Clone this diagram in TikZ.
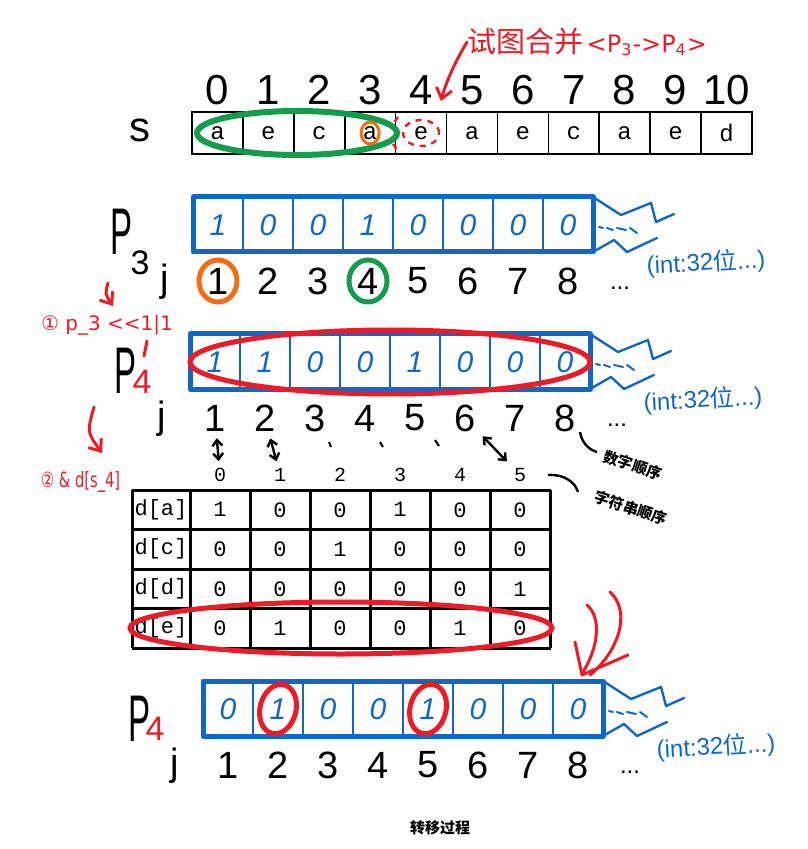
\documentclass[tikz,border=0pt]{standalone}
\usepackage{fontspec}
\usepackage{graphicx}
\setmainfont{Liberation Sans}
\newfontfamily\cjk{Noto Sans CJK SC}
\newfontfamily\dejavu{DejaVu Sans}
\newfontfamily\mono{Liberation Mono}
\usetikzlibrary{arrows.meta}

\definecolor{penblue}{RGB}{17,104,196}
\definecolor{penred}{RGB}{235,28,40}
\definecolor{pengreen}{RGB}{20,155,75}
\definecolor{penorange}{RGB}{245,110,20}

\tikzset{
  hand/.style={font=\fontsize{19}{19}\selectfont},
  bigidx/.style={font=\fontsize{21}{21}\selectfont},
  bit/.style={text=penblue,font=\itshape\fontsize{15}{15}\selectfont},
  scell/.style={font=\mono\fontsize{12}{12}\selectfont},
  tabtxt/.style={font=\mono\fontsize{11}{11}\selectfont},
  plab/.style={font=\fontsize{33}{33}\selectfont},
  sublab/.style={font=\fontsize{17}{17}\selectfont},
  redtxt/.style={text=penred},
  note/.style={font=\cjk\bfseries\fontsize{7.5}{8}\selectfont},
  bluenote/.style={text=penblue,font=\fontsize{12}{12}\selectfont,rotate=3},
  bluethick/.style={penblue,line width=2.5pt,line join=round},
  bluethin/.style={penblue,line width=1pt},
  bluecut/.style={penblue,line width=1.2pt,line join=round,line cap=round},
  redpen/.style={penred,line width=1.5pt,line cap=round},
  redarrow/.style={redpen,-{Straight Barb[length=5pt,width=8pt]}},
  dbl/.style={line width=1.2pt,{Straight Barb[length=3pt,width=5pt]}-{Straight Barb[length=3pt,width=5pt]}}
}

\begin{document}
\begin{tikzpicture}[x=1pt,y=-1pt,scale=0.5]
  \useasboundingbox (0,0) rectangle (807,849);

  % title and the string s
  \node[redtxt,anchor=west,inner sep=0pt] (title) at (467,42)
    {{\cjk\fontsize{14.5}{15}\selectfont 试图合并}\,{\dejavu\fontsize{12}{12}\selectfont <P\textsubscript{3}->P\textsubscript{4}>}};
  \coordinate (aim) at (441,101);
  \draw[redarrow] (title.west) .. controls (455,62) and (446,82) .. (aim);

  \node[bigidx] (slab) at (140,130) {s};
  \foreach \k in {0,...,10}
    \node[bigidx] (i\k) at ({217.45+50.9*\k},90) {\k};
  \draw[line width=1.4pt] (192,112) rectangle (752,154);
  \foreach \k in {1,...,10}
    \draw[line width=0.8pt] ({192+50.9*\k},112) -- ++(0,42);
  \foreach \c [count=\k from 0] in {a,e,c,a,e,a,e,c,a,e,d}
    \node[scell] (s\k) at ({217.45+50.9*\k},133) {\c};
  \draw[pengreen,line width=3pt] (297,133) ellipse [x radius=100pt, y radius=22pt];
  \draw[penorange,line width=1.5pt] (s3) ellipse [x radius=9pt, y radius=11pt];
  \draw[penred,dashed,line width=1.2pt] (s4) ellipse [x radius=18pt, y radius=13pt];
  \draw[penred,dashed,line width=1.2pt] (398,117) -- (393,124) (393,144) -- (398,151);

  % bit rows P3, P4', P4
  \foreach \rn/\lx/\ty/\bits in {pa/193/197/{1,0,0,1,0,0,0,0},
                                 pb/190/334/{1,1,0,0,1,0,0,0},
                                 pc/203/681/{0,1,0,0,1,0,0,0}} {
    \foreach \k in {1,...,7}
      \draw[bluethin] ({\lx+50*\k},\ty) -- ({\lx+50*\k},\ty+55);
    \draw[bluethick] (\lx,\ty) rectangle ({\lx+400},\ty+55);
    \foreach \b [count=\k] in \bits
      \node[bit] (\rn-\k) at ({\lx+50*\k-25},\ty+28) {\b};
    \coordinate (\rn-end) at ({\lx+400},\ty);
    \draw[bluecut] (\rn-end) -- ++(28,18) -- ++(30,-12) -- ++(5,19) -- ++(18,-8);
    \draw[bluecut] (\rn-end) ++(0,55) -- ++(21,-12) -- ++(13,12) -- ++(30,-14);
    \draw[bluecut,line width=1pt] (\rn-end) +(6,30) -- +(10,31) +(14,31) -- +(20,33)
      +(24,31) -- +(33,33) +(37,31) -- +(44,36);
    \path (\rn-end) ++(113,66) node[bluenote] (\rn-int) {(int:32{\cjk 位}...)};
    \node[hand] (\rn-j) at ({\lx-28},\ty+85) {j};
    \foreach \k in {1,...,8}
      \node[hand] (\rn-n\k) at ({\lx+50*\k-25},\ty+84) {\k};
    \node[font=\fontsize{12}{12}\selectfont] (\rn-dots) at ({\lx+427},\ty+91) {...};
  }

  \node[plab] (pname3) at (122,232) {\scalebox{.5}[1]{P}};
  \node[sublab] (psub3) at (140,263) {3};
  \node[plab] (pname4a) at (126,371) {\scalebox{.5}[1]{P}};
  \node[sublab,redtxt] (psub4a) at (142,382) {4};
  \draw[redpen] (147,341) -- (144,356);
  \node[plab] (pname4) at (140,719) {\scalebox{.5}[1]{P}};
  \node[sublab,redtxt] (psub4) at (155,729) {4};

  \draw[penorange,line width=2.5pt] (pa-n1) ellipse [x radius=19pt, y radius=21pt];
  \draw[pengreen,line width=2.5pt] (pa-n4) ellipse [x radius=19pt, y radius=21pt];
  \draw[penred,line width=2.5pt] (390,362) ellipse [x radius=200pt, y radius=32pt];
  \draw[penred,line width=2.5pt,rotate around={-14:(pc-2)}] (pc-2) ellipse [x radius=18pt, y radius=25pt];
  \draw[penred,line width=2.5pt,rotate around={-14:(pc-5)}] (pc-5) ellipse [x radius=18pt, y radius=25pt];

  % steps
  \node[redtxt,anchor=west,font=\dejavu\fontsize{10}{10}\selectfont] (stepone) at (34,325) {① p\_3 <{}<1|1};
  \draw[redarrow] (108,283) .. controls (105,294) .. (113,306);
  \node[redtxt,anchor=west,font=\dejavu\fontsize{10.5}{10.5}\selectfont] (steptwo) at (34,482)
    {\scalebox{.7}[1]{② \& d[s\_4]}};
  \draw[redarrow] (94,407) .. controls (87,432) .. (102,453);

  % table d[]
  \foreach \c in {0,...,5}
    \node[font=\mono\fontsize{10}{10}\selectfont] (col\c) at ({220+60*\c},475) {\c};
  \foreach \r/\vals [count=\i] in {a/{1,0,0,1,0,0}, c/{0,0,1,0,0,0},
                                   d/{0,0,0,0,0,1}, e/{0,1,0,0,1,0}} {
    \node[tabtxt] (d\r) at (161,{470.25+39.5*\i}) {d[\r]};
    \foreach \v [count=\c] in \vals
      \node[tabtxt] (d\r\c) at ({160+60*\c},{470.25+39.5*\i}) {\v};
  }
  \foreach \i in {0,...,4}
    \draw[line width=1.5pt] (132,{490+39.5*\i}) -- (551,{490+39.5*\i});
  \draw[line width=1.5pt] (132,490) -- (132,648);
  \foreach \c in {0,...,6}
    \draw[line width=1.5pt] ({190+60*\c},490) -- ({190+60*\c},648);
  \draw[penred,line width=2.5pt] (341,628) ellipse [x radius=211pt, y radius=26pt];

  % j <-> column
  \draw[dbl] (pb-n1) -- (col0);
  \draw[dbl] (pb-n2) -- (col1);
  \draw[dbl] (pb-n6) -- (col5);
  \draw[line width=1pt] (329,442) -- (331,447) (380,442) -- (383,447) (435,440) -- (439,446);
  \node[note,rotate=-18] (numorder) at (633,465) {数字顺序};
  \node[note,rotate=-18] (strorder) at (631,508) {字符串顺序};
  \draw[line width=1.2pt] (580,432) .. controls (582,444) and (590,450) .. (597,452);
  \draw[line width=1.2pt] (548,475) .. controls (564,474) and (575,482) .. (578,492);

  % red arrow to P4
  \draw[redpen] (587,605) .. controls (602,618) and (598,648) .. (583,672);
  \draw[redpen] (610,592) .. controls (632,612) and (618,652) .. (590,675);
  \draw[redpen,line join=round] (575,642) -- (582,675) -- (628,655);

  \node[note] (caption) at (440,828) {转移过程};
\end{tikzpicture}
\end{document}
